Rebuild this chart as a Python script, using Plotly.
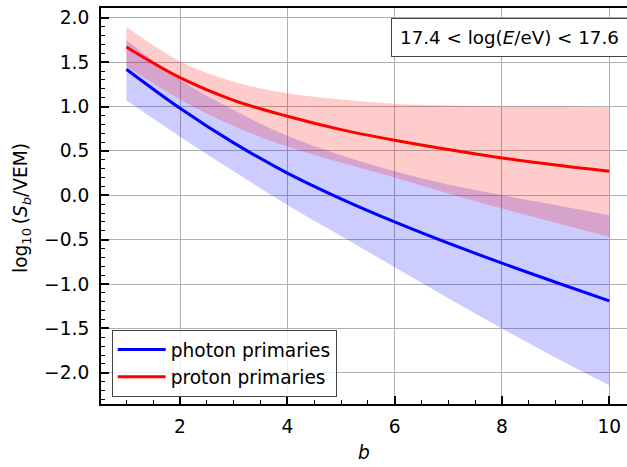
import plotly.graph_objects as go

b_vals = [1, 2, 3, 4, 5, 6, 7, 8, 9, 10]

photon_mean = [1.42, 0.98, 0.59, 0.25, -0.04, -0.30, -0.54, -0.765, -0.98, -1.19]
photon_low = [1.07, 0.66, 0.27, -0.11, -0.46, -0.81, -1.16, -1.50, -1.83, -2.14]
photon_high = [1.75, 1.30, 0.96, 0.67, 0.45, 0.27, 0.12, 0.00, -0.11, -0.225]

proton_mean = [1.67, 1.325, 1.07, 0.89, 0.74, 0.62, 0.515, 0.42, 0.34, 0.27]
proton_low = [1.45, 1.08, 0.78, 0.55, 0.37, 0.20, 0.02, -0.15, -0.31, -0.47]
proton_high = [1.90, 1.51, 1.28, 1.15, 1.08, 1.03, 1.01, 1.00, 1.00, 0.995]

x_ticks = [2, 4, 6, 8, 10]
y_ticks = [-2.0, -1.5, -1.0, -0.5, 0.0, 0.5, 1.0, 1.5, 2.0]

FONT = "DejaVu Sans"
FS = 18.6

fig = go.Figure()

# bands
fig.add_trace(go.Scatter(x=b_vals, y=photon_low, mode="lines",
                         line=dict(width=0, shape="spline", color="rgba(0,0,255,0)"),
                         showlegend=False, hoverinfo="skip"))
fig.add_trace(go.Scatter(x=b_vals, y=photon_high, mode="lines", fill="tonexty",
                         fillcolor="rgba(0,0,255,0.2)",
                         line=dict(width=0, shape="spline", color="rgba(0,0,255,0)"),
                         showlegend=False, hoverinfo="skip"))
fig.add_trace(go.Scatter(x=b_vals, y=proton_low, mode="lines",
                         line=dict(width=0, shape="spline", color="rgba(255,0,0,0)"),
                         showlegend=False, hoverinfo="skip"))
fig.add_trace(go.Scatter(x=b_vals, y=proton_high, mode="lines", fill="tonexty",
                         fillcolor="rgba(255,0,0,0.2)",
                         line=dict(width=0, shape="spline", color="rgba(255,0,0,0)"),
                         showlegend=False, hoverinfo="skip"))

# lines
fig.add_trace(go.Scatter(x=b_vals, y=photon_mean, mode="lines", name="photon primaries",
                         line=dict(width=3, shape="spline", color="#0000ff")))
fig.add_trace(go.Scatter(x=b_vals, y=proton_mean, mode="lines", name="proton primaries",
                         line=dict(width=3, shape="spline", color="#ff0000")))

axis_common = dict(
    showgrid=True, gridcolor="#b0b0b0", gridwidth=1.4,
    zeroline=False,
    showline=True, linecolor="black", linewidth=2,
    ticks="inside", ticklen=8, tickwidth=1.5, tickcolor="black",
    tickfont=dict(family=FONT, size=FS, color="black"),
)

fig.update_xaxes(
    range=[0.527, 10.33], tickvals=x_ticks, ticktext=[str(v) for v in x_ticks],
    mirror=True,
    minor=dict(ticks="inside", ticklen=4, tickwidth=1, tickcolor="black", dtick=0.5, tick0=0, showgrid=False),
    title=dict(text="<i>b</i>", font=dict(family=FONT, size=FS, color="black"), standoff=10),
    ticklabelstandoff=5,
    **axis_common,
)
fig.update_yaxes(
    range=[-2.352, 2.11], tickvals=y_ticks, ticktext=[f"{v:.1f}".replace("-", "\u2212") for v in y_ticks],
    mirror=False,
    minor=dict(ticks="inside", ticklen=4, tickwidth=1, tickcolor="black", dtick=0.1, tick0=0, showgrid=False),
    ticklabelstandoff=6,
    **axis_common,
)

# y-axis title
fig.add_annotation(
    xref="paper", yref="paper", x=(22 - 101) / 526, y=1 - (208 - 8) / 396,
    xanchor="center", yanchor="middle", showarrow=False, textangle=-90,
    text="log<sub>10</sub>\u2009(<i>S<sub>b</sub></i>/VEM)",
    font=dict(family=FONT, size=FS, color="black"),
)

fig.add_annotation(
    xref="paper", yref="paper", x=(390.7 - 101) / 526, y=1 - (18.3 - 8) / 396,
    xanchor="left", yanchor="top", showarrow=False,
    text="17.4 < log(<i>E</i>/eV) < 17.6",
    font=dict(family=FONT, size=18.3, color="black"),
    bgcolor="white", bordercolor="#444444", borderwidth=1, borderpad=8,
)

fig.update_layout(
    width=627, height=467,
    margin=dict(l=101, r=0, t=8, b=63),
    plot_bgcolor="white", paper_bgcolor="white",
    font=dict(family=FONT, size=FS, color="black"),
    legend=dict(
        x=(111.7 - 101) / 526, y=(404 - 397) / 396, xanchor="left", yanchor="bottom",
        bgcolor="rgba(255,255,255,0.8)", bordercolor="#444444", borderwidth=1,
        font=dict(family=FONT, size=FS, color="black"),
        traceorder="normal", tracegroupgap=0, itemwidth=48,
    ),
)

fig.write_html("out.html")
